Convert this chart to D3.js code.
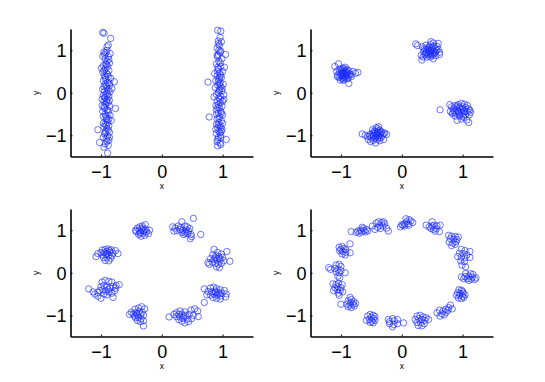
<!DOCTYPE html>
<html>
<head>
<meta charset="utf-8">
<script src="https://cdn.jsdelivr.net/npm/d3@7"></script>
<style>
  html, body { margin: 0; padding: 0; background: #fff; }
  svg { display: block; }
  text { font-family: "Liberation Sans", Arial, Helvetica, sans-serif; fill: #000; }
</style>
</head>
<body>
<svg id="chart" width="545" height="382"></svg>
<script>
// ---------------- data ----------------
const tickValues = [-1, 0, 1];
const tickLabels = ["\u22121", "0", "1"];
const axisDomain = [-1.5, 1.5];
const xLabel = "x";
const yLabel = "y";

// panel 1: two vertical strips
const panel1LeftStrip = [[-0.97,1.42],[-0.95,1.40],[-0.84,1.28],[-0.88,1.12],[-0.90,1.08],[-0.95,0.96],[-0.92,0.94],[-0.85,0.92],[-0.88,0.85],[-0.93,0.80],[-0.90,0.74],[-0.86,0.70],[-0.96,0.64],[-0.89,0.62],[-0.93,0.56],[-0.87,0.52],[-0.97,0.48],[-0.91,0.46],[-0.94,0.40],[-0.88,0.38],[-0.84,0.34],[-0.92,0.31],[-0.96,0.28],[-0.78,0.26],[-0.89,0.24],[-0.93,0.20],[-0.86,0.17],[-0.95,0.14],[-0.90,0.11],[-0.88,0.06],[-0.94,0.03],[-0.91,-0.02],[-0.96,-0.06],[-0.87,-0.08],[-0.93,-0.12],[-0.90,-0.16],[-0.95,-0.20],[-0.88,-0.23],[-0.92,-0.27],[-0.98,-0.30],[-0.86,-0.31],[-0.76,-0.37],[-0.94,-0.36],[-0.90,-0.40],[-0.97,-0.44],[-0.88,-0.47],[-0.93,-0.50],[-0.85,-0.53],[-0.96,-0.56],[-0.91,-0.60],[-0.89,-0.70],[-0.93,-0.74],[-0.87,-0.78],[-0.95,-0.80],[-0.90,-0.84],[-1.05,-0.87],[-0.92,-0.90],[-0.86,-0.93],[-0.94,-0.97],[-0.89,-1.02],[-0.96,-1.05],[-0.91,-1.08],[-0.87,-1.12],[-1.02,-1.17],[-0.93,-1.20],[-0.88,-1.24],[-0.89,-1.42],[-0.98,-0.15],[-0.85,0.02],[-0.99,0.58],[-0.83,-0.65],[-0.97,0.86],[-0.92,0.68],[-0.90,-0.64],[-0.82,0.10],
  [-0.90,1.00],[-0.94,0.90],[-0.87,0.78],[-0.91,0.66],[-0.95,0.52],[-0.89,0.43],[-0.93,0.36],[-0.86,0.22],[-0.91,0.16],[-0.97,0.08],[-0.89,-0.04],[-0.94,-0.10],[-0.86,-0.18],[-0.91,-0.22],[-0.95,-0.33],[-0.88,-0.42],[-0.92,-0.55],[-0.87,-0.62],[-0.96,-0.72],[-0.91,-0.77],[-0.88,-0.88],[-0.93,-0.94],[-0.90,-1.14],[-0.95,-1.28],[-0.86,-1.05]];
const panel1RightStrip = [[0.92,1.47],[0.97,1.45],[0.93,1.22],[0.98,1.20],[0.95,1.12],[0.91,1.05],[1.05,0.90],[0.96,0.95],[0.92,0.85],[0.99,0.80],[0.94,0.74],[0.90,0.68],[0.97,0.62],[0.93,0.56],[1.00,0.50],[0.95,0.46],[0.91,0.40],[0.98,0.36],[0.94,0.32],[0.89,0.28],[0.76,0.25],[0.96,0.24],[1.01,0.20],[0.92,0.18],[0.97,0.14],[0.88,0.12],[0.95,0.08],[0.99,0.04],[0.93,0.00],[0.90,-0.04],[0.97,-0.08],[0.94,-0.12],[1.02,-0.16],[0.91,-0.20],[0.96,-0.24],[0.93,-0.28],[0.99,-0.32],[0.95,-0.36],[0.90,-0.40],[0.97,-0.44],[0.93,-0.48],[1.00,-0.52],[0.78,-0.57],[0.95,-0.56],[0.91,-0.62],[0.98,-0.66],[0.94,-0.70],[0.90,-0.74],[0.96,-0.78],[0.92,-0.82],[0.99,-0.86],[0.94,-0.90],[0.90,-0.96],[0.97,-1.00],[1.06,-1.10],[0.93,-1.05],[0.91,-1.15],[0.96,-1.18],[0.92,-1.25],[0.97,-1.22],[1.02,-0.05],[0.87,0.45],[1.03,0.60],[0.89,-0.30],[1.00,-0.72],[0.94,1.00],[0.92,0.60],[0.98,-0.90],[0.95,0.20],[0.86,-0.10],
  [0.96,1.30],[0.93,1.15],[0.97,0.98],[0.93,0.90],[0.96,0.70],[0.92,0.50],[0.97,0.42],[0.93,0.27],[0.99,0.10],[0.94,0.05],[0.96,-0.16],[0.92,-0.35],[0.98,-0.48],[0.94,-0.60],[0.97,-0.82],[0.93,-0.75],[0.96,-0.94],[0.92,-1.10],[0.97,-1.06],[0.90,-0.50],[1.00,-0.20],[0.91,0.88],[0.95,0.36],[0.89,-0.86]];

// panel 2: four clusters
const panel2ClusterA = [[-1.10,0.62],[-1.04,0.68],[-0.97,0.58],[-0.93,0.60],[-0.90,0.55],[-0.99,0.52],[-0.95,0.50],[-0.91,0.49],[-0.87,0.52],[-1.02,0.47],[-0.97,0.45],[-0.93,0.44],[-0.89,0.46],[-0.85,0.44],[-1.05,0.42],[-1.00,0.40],[-0.96,0.40],[-0.92,0.38],[-0.88,0.40],[-0.84,0.42],[-1.03,0.36],[-0.98,0.34],[-0.94,0.35],[-0.90,0.33],[-1.01,0.30],[-0.96,0.29],[-0.87,0.22],[-0.72,0.48],[-0.76,0.46],[-0.80,0.50],[-1.07,0.50],[-0.95,0.56],[-0.99,0.43],[-0.91,0.42],[-0.94,0.47],[-1.06,0.38],[-0.83,0.38],[-0.97,0.38],[-1.00,0.56],[-0.92,0.52],[-0.88,0.34],[-0.98,0.48],[-0.95,0.32],[-1.03,0.54]];
const panel2ClusterB = [[0.23,1.15],[0.26,1.11],[0.34,1.08],[0.40,1.12],[0.48,1.20],[0.52,1.17],[0.60,1.16],[0.45,1.08],[0.50,1.06],[0.55,1.04],[0.40,1.02],[0.44,1.00],[0.48,0.99],[0.52,0.98],[0.57,1.00],[0.62,0.95],[0.36,0.97],[0.41,0.95],[0.46,0.94],[0.50,0.92],[0.54,0.93],[0.38,0.90],[0.43,0.89],[0.48,0.88],[0.32,0.88],[0.56,0.87],[0.33,0.77],[0.47,0.84],[0.52,0.80],[0.41,0.84],[0.37,1.03],[0.58,1.09],[0.53,1.10],[0.43,1.05],[0.49,1.02],[0.45,0.97],[0.39,0.93],[0.60,1.02],[0.35,0.84],[0.55,0.96],[0.51,0.89],[0.44,0.92],[0.62,0.90],[0.47,1.13]];
const panel2ClusterC = [[-0.65,-0.97],[-0.60,-1.00],[-0.56,-1.03],[-0.55,-1.10],[-0.51,-1.15],[-0.47,-1.12],[-0.43,-1.18],[-0.40,-1.10],[-0.36,-1.13],[-0.30,-1.10],[-0.25,-0.98],[-0.28,-0.95],[-0.33,-0.92],[-0.36,-0.88],[-0.40,-0.85],[-0.42,-0.82],[-0.38,-0.80],[-0.45,-0.90],[-0.48,-0.95],[-0.52,-0.98],[-0.44,-0.96],[-0.40,-0.94],[-0.36,-0.97],[-0.32,-1.00],[-0.46,-1.02],[-0.42,-1.04],[-0.38,-1.02],[-0.34,-1.05],[-0.50,-1.06],[-0.44,-1.08],[-0.39,-0.90],[-0.35,-0.93],[-0.48,-0.87],[-0.41,-0.98],[-0.37,-1.06],[-0.53,-1.02],[-0.30,-0.96],[-0.43,-0.92],[-0.47,-1.00],[-0.39,-0.99]];
const panel2ClusterD = [[0.63,-0.40],[0.79,-0.28],[0.82,-0.33],[0.87,-0.30],[0.93,-0.28],[0.98,-0.25],[1.03,-0.27],[1.08,-0.30],[0.85,-0.38],[0.90,-0.36],[0.95,-0.34],[1.00,-0.33],[1.05,-0.35],[1.10,-0.38],[0.80,-0.44],[0.86,-0.43],[0.92,-0.41],[0.97,-0.40],[1.02,-0.42],[1.08,-0.45],[1.13,-0.46],[0.83,-0.50],[0.89,-0.48],[0.94,-0.47],[1.00,-0.49],[1.05,-0.51],[1.11,-0.52],[0.88,-0.55],[0.95,-0.55],[1.02,-0.58],[0.91,-0.65],[0.98,-0.62],[1.07,-0.64],[1.10,-0.70],[0.93,-0.44],[0.99,-0.38],[1.04,-0.44],[0.96,-0.52],[0.84,-0.47],[1.12,-0.41],[0.91,-0.31],[1.01,-0.55]];

// panel 3: eight clusters
const panel3Cluster1 = [[-0.40,1.05],[-0.36,1.08],[-0.32,1.10],[-0.27,1.13],[-0.37,1.00],[-0.33,1.02],[-0.29,0.99],[-0.42,0.97],[-0.35,0.95],[-0.30,0.93],[-0.25,0.96],[-0.20,1.00],[-0.38,0.90],[-0.34,0.86],[-0.28,0.88],[-0.22,0.92],[-0.43,1.00],[-0.31,1.05],[-0.36,0.93],[-0.26,1.02]];
const panel3Cluster2 = [[0.18,1.08],[0.22,1.05],[0.27,1.10],[0.33,1.20],[0.52,1.28],[0.38,1.10],[0.42,1.08],[0.46,1.04],[0.30,1.02],[0.35,1.00],[0.40,1.01],[0.44,0.98],[0.25,0.99],[0.33,0.95],[0.38,0.93],[0.43,0.92],[0.48,0.90],[0.36,0.90],[0.49,0.85],[0.47,0.80],[0.64,0.90],[0.20,0.98],[0.40,0.96],[0.31,1.06]];
const panel3Cluster3 = [[0.86,0.55],[0.92,0.48],[0.98,0.44],[1.07,0.50],[0.84,0.42],[0.89,0.40],[0.94,0.38],[1.00,0.36],[0.80,0.33],[0.86,0.32],[0.91,0.30],[0.96,0.30],[1.02,0.28],[1.12,0.27],[0.76,0.24],[0.83,0.25],[0.88,0.22],[0.93,0.20],[0.98,0.22],[0.90,0.14],[0.95,0.12],[0.78,0.20],[0.88,0.35],[0.95,0.34]];
const panel3Cluster4 = [[0.70,-0.38],[0.80,-0.36],[0.85,-0.34],[0.90,-0.37],[0.96,-0.40],[1.03,-0.42],[0.76,-0.44],[0.82,-0.45],[0.88,-0.43],[0.93,-0.46],[0.99,-0.48],[1.06,-0.50],[0.74,-0.52],[0.80,-0.52],[0.86,-0.50],[0.91,-0.53],[0.97,-0.55],[1.05,-0.57],[0.84,-0.58],[0.90,-0.60],[0.96,-0.62],[0.70,-0.70],[0.88,-0.46],[0.94,-0.50]];
const panel3Cluster5 = [[0.12,-1.04],[0.20,-0.98],[0.24,-0.94],[0.30,-0.90],[0.38,-0.92],[0.48,-0.88],[0.54,-0.85],[0.59,-0.90],[0.28,-0.98],[0.33,-0.97],[0.39,-1.00],[0.45,-0.98],[0.52,-1.00],[0.60,-1.03],[0.24,-1.03],[0.30,-1.04],[0.35,-1.07],[0.42,-1.09],[0.49,-1.08],[0.33,-1.14],[0.38,-1.18],[0.44,-1.15],[0.28,-1.10],[0.36,-1.02]];
const panel3Cluster6 = [[-0.50,-0.93],[-0.44,-0.86],[-0.38,-0.83],[-0.33,-0.80],[-0.28,-0.85],[-0.47,-0.97],[-0.42,-0.94],[-0.37,-0.91],[-0.32,-0.93],[-0.45,-1.02],[-0.40,-1.00],[-0.35,-0.98],[-0.30,-1.00],[-0.43,-1.06],[-0.38,-1.05],[-0.34,-1.08],[-0.40,-1.12],[-0.35,-1.15],[-0.30,-1.13],[-0.30,-1.25],[-0.53,-0.98],[-0.41,-0.96]];
const panel3Cluster7 = [[-1.20,-0.38],[-1.13,-0.45],[-1.10,-0.50],[-1.05,-0.55],[-1.00,-0.60],[-0.95,-0.50],[-0.90,-0.52],[-0.80,-0.58],[-1.02,-0.42],[-0.97,-0.40],[-0.92,-0.43],[-0.87,-0.45],[-0.82,-0.48],[-0.77,-0.42],[-1.00,-0.33],[-0.95,-0.30],[-0.90,-0.34],[-0.85,-0.36],[-0.80,-0.32],[-0.75,-0.30],[-0.70,-0.28],[-0.98,-0.22],[-0.93,-0.18],[-0.87,-0.20],[-0.82,-0.22],[-1.05,-0.46],[-0.88,-0.40],[-0.76,-0.36]];
const panel3Cluster8 = [[-0.98,0.53],[-0.93,0.55],[-0.88,0.56],[-0.83,0.54],[-0.76,0.52],[-1.05,0.45],[-1.00,0.47],[-0.95,0.48],[-0.90,0.50],[-0.85,0.48],[-0.80,0.46],[-0.72,0.45],[-0.97,0.42],[-0.92,0.43],[-0.87,0.41],[-0.82,0.40],[-1.08,0.38],[-0.96,0.36],[-0.90,0.35],[-0.84,0.34],[-0.93,0.29],[-0.87,0.28],[-0.90,0.45],[-0.86,0.52]];

// panel 4: sixteen clusters
const panel4Cluster1 = [[-0.83,0.97],[-0.75,0.95],[-0.70,0.93],[-0.66,0.96],[-0.62,0.99],[-0.58,1.02],[-0.63,1.04],[-0.68,1.00],[-0.72,0.98],[-0.60,0.96],[-0.65,1.07],[-0.56,0.98]];
const panel4Cluster2 = [[-0.48,1.10],[-0.42,1.17],[-0.38,1.20],[-0.33,1.18],[-0.28,1.15],[-0.36,1.12],[-0.31,1.10],[-0.40,1.07],[-0.35,1.04],[-0.25,1.05],[-0.22,0.98],[-0.44,1.02],[-0.30,1.20]];
const panel4Cluster3 = [[-0.02,1.08],[0.02,1.12],[0.05,1.15],[0.08,1.20],[0.12,1.25],[0.15,1.22],[0.18,1.18],[0.10,1.15],[0.05,1.10],[0.00,1.13],[0.12,1.12],[0.07,1.27]];
const panel4Cluster4 = [[0.40,1.12],[0.45,1.08],[0.50,1.20],[0.53,1.12],[0.58,1.10],[0.63,1.12],[0.48,1.04],[0.52,1.02],[0.57,1.04],[0.55,0.98],[0.62,0.97],[0.50,1.10]];
const panel4Cluster5 = [[0.77,0.88],[0.82,0.86],[0.88,0.85],[0.93,0.84],[0.80,0.80],[0.86,0.79],[0.91,0.78],[0.78,0.72],[0.84,0.70],[0.89,0.73],[0.82,0.64],[0.88,0.67]];
const panel4Cluster6 = [[0.98,0.55],[1.04,0.52],[1.12,0.50],[0.95,0.46],[1.01,0.45],[1.07,0.42],[0.92,0.38],[0.98,0.37],[1.04,0.35],[1.12,0.36],[0.97,0.28],[1.03,0.26],[0.99,0.18],[1.05,0.14]];
const panel4Cluster7 = [[1.05,-0.02],[1.13,-0.02],[1.17,-0.04],[0.98,-0.10],[1.04,-0.09],[1.10,-0.08],[1.16,-0.10],[1.22,-0.12],[1.02,-0.14],[1.08,-0.14],[1.14,-0.15],[1.20,-0.16],[1.10,-0.18]];
const panel4Cluster8 = [[0.94,-0.40],[0.98,-0.41],[1.00,-0.44],[0.92,-0.47],[0.96,-0.49],[1.01,-0.48],[0.90,-0.53],[0.95,-0.53],[1.00,-0.55],[1.04,-0.52],[0.93,-0.59],[0.98,-0.61],[1.02,-0.58]];
const panel4Cluster9 = [[0.80,-0.76],[0.77,-0.82],[0.83,-0.85],[0.72,-0.86],[0.76,-0.88],[0.68,-0.90],[0.73,-0.93],[0.62,-0.88],[0.58,-0.94],[0.66,-0.97],[0.70,-0.99],[0.63,-1.02]];
const panel4Cluster10 = [[0.25,-1.02],[0.30,-1.00],[0.35,-1.04],[0.40,-1.06],[0.22,-1.10],[0.28,-1.08],[0.33,-1.10],[0.38,-1.12],[0.44,-1.10],[0.25,-1.17],[0.31,-1.18],[0.37,-1.20],[0.33,-1.25],[0.27,-1.24]];
const panel4Cluster11 = [[-0.22,-1.10],[-0.15,-1.08],[-0.07,-1.10],[-0.20,-1.15],[-0.12,-1.13],[0.03,-1.18],[-0.20,-1.20],[-0.13,-1.22],[-0.07,-1.20],[-0.15,-1.27]];
const panel4Cluster12 = [[-0.56,-1.02],[-0.52,-0.98],[-0.47,-1.00],[-0.44,-1.03],[-0.50,-1.05],[-0.46,-1.08],[-0.58,-1.12],[-0.53,-1.10],[-0.49,-1.14],[-0.44,-1.12],[-0.52,-1.17],[-0.47,-1.18]];
const panel4Cluster13 = [[-0.85,-0.58],[-0.83,-0.63],[-0.88,-0.66],[-0.79,-0.68],[-0.84,-0.70],[-0.90,-0.74],[-0.85,-0.76],[-0.80,-0.74],[-0.76,-0.72],[-0.88,-0.80],[-0.83,-0.82],[-0.78,-0.78],[-1.00,-0.74]];
const panel4Cluster14 = [[-1.13,-0.26],[-1.08,-0.28],[-1.04,-0.25],[-0.98,-0.28],[-1.10,-0.35],[-1.05,-0.33],[-1.00,-0.35],[-1.12,-0.42],[-1.06,-0.40],[-1.01,-0.42],[-1.04,-0.48],[-0.97,-0.45],[-1.03,-0.53]];
const panel4Cluster15 = [[-1.20,0.12],[-1.17,0.08],[-1.08,0.18],[-1.03,0.20],[-1.00,0.15],[-1.10,0.10],[-1.05,0.08],[-1.00,0.05],[-1.08,0.02],[-1.03,0.00],[-0.93,0.00],[-1.05,-0.08],[-1.02,-0.12]];
const panel4Cluster16 = [[-1.03,0.60],[-0.98,0.62],[-0.85,0.68],[-1.00,0.55],[-0.95,0.57],[-0.92,0.54],[-0.97,0.50],[-0.92,0.48],[-0.85,0.47],[-0.98,0.44],[-0.93,0.42],[-1.02,0.52]];

const panels = [
  [panel1LeftStrip, panel1RightStrip],
  [panel2ClusterA, panel2ClusterB, panel2ClusterC, panel2ClusterD],
  [panel3Cluster1, panel3Cluster2, panel3Cluster3, panel3Cluster4, panel3Cluster5, panel3Cluster6, panel3Cluster7, panel3Cluster8],
  [panel4Cluster1, panel4Cluster2, panel4Cluster3, panel4Cluster4, panel4Cluster5, panel4Cluster6, panel4Cluster7, panel4Cluster8,
   panel4Cluster9, panel4Cluster10, panel4Cluster11, panel4Cluster12, panel4Cluster13, panel4Cluster14, panel4Cluster15, panel4Cluster16]
];

// ---------------- layout ----------------
const svg = d3.select("#chart");
const cols = [70.5, 310.5];
const rows = [29, 209];
const plotW = 182.5, plotH = 127.5;

panels.forEach((clusters, i) => {
  const left = cols[i % 2], top = rows[Math.floor(i / 2)];
  const g = svg.append("g").attr("transform", `translate(${left},${top})`);
  const x = d3.scaleLinear().domain(axisDomain).range([0, plotW]);
  const y = d3.scaleLinear().domain(axisDomain).range([plotH, 0]);

  const pts = clusters.flat();
  g.append("g").selectAll("circle").data(pts).join("circle")
    .attr("cx", d => x(d[0])).attr("cy", d => y(d[1]))
    .attr("r", 3.2)
    .attr("fill", "none")
    .attr("stroke", "#1a2cff")
    .attr("stroke-width", 0.65);

  const xAxis = d3.axisBottom(x).tickValues(tickValues)
    .tickFormat((d, k) => tickLabels[k]).tickSizeInner(-2).tickSizeOuter(0).tickPadding(6);
  const gx = g.append("g").attr("transform", `translate(0,${plotH})`).call(xAxis);
  const yAxis = d3.axisLeft(y).tickValues(tickValues)
    .tickFormat((d, k) => tickLabels[k]).tickSizeInner(-2).tickSizeOuter(0).tickPadding(6);
  const gy = g.append("g").call(yAxis);

  [gx, gy].forEach(a => {
    a.select(".domain").attr("stroke", "#000").attr("stroke-width", 1.6);
    a.selectAll(".tick line").attr("stroke", "#000").attr("stroke-width", 1);
    a.selectAll(".tick text").attr("font-size", 18)
      .attr("font-family", "'Liberation Sans', Arial, sans-serif").attr("fill", "#000");
  });
  gx.selectAll(".tick text").attr("dy", "0.71em").attr("y", 8.5);
  gy.selectAll(".tick text").attr("x", -4).attr("dy", "0.36em");

  g.append("text").attr("x", x(0)).attr("y", plotH + 32.5)
    .attr("text-anchor", "middle").attr("font-size", 8.5).text(xLabel);
  g.append("text").attr("transform", `translate(-32,${y(0)}) rotate(-90)`)
    .attr("text-anchor", "middle").attr("font-size", 8.5).text(yLabel);
});
</script>
</body>
</html>
